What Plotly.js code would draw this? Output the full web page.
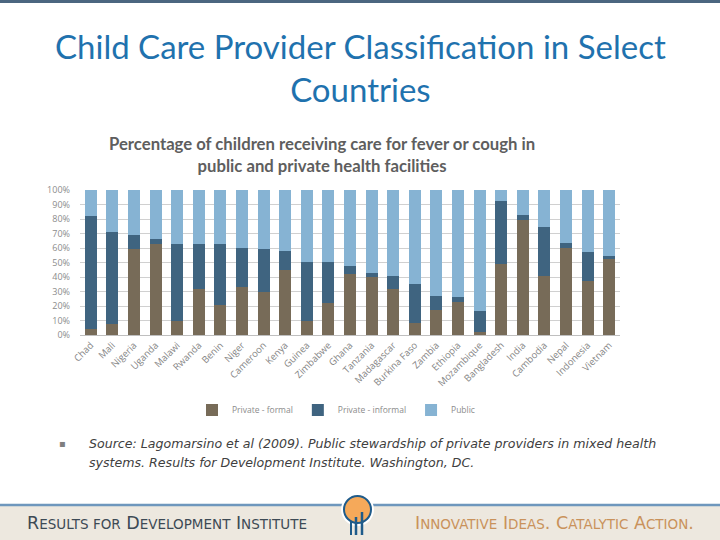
<!DOCTYPE html>
<html>
<head>
<meta charset="utf-8">
<script src="https://cdn.plot.ly/plotly-3.0.1.min.js"></script>
<style>
  html, body { margin: 0; padding: 0; background: #ffffff; }
  #chart { width: 720px; height: 540px; }
</style>
</head>
<body>
<div id="chart"></div>
<script>
// ---- Data ----
const countries = ["Chad", "Mali", "Nigeria", "Uganda", "Malawi", "Rwanda", "Benin", "Niger",
  "Cameroon", "Kenya", "Guinea", "Zimbabwe", "Ghana", "Tanzania", "Madagascar", "Burkina Faso",
  "Zambia", "Ethiopia", "Mozambique", "Bangladesh", "India", "Cambodia", "Nepal", "Indonesia", "Vietnam"];

const privateFormal = [4, 7.5, 59, 63, 10, 32, 21, 33, 30, 45, 10, 22,
  42, 40, 32, 8, 17, 23, 2, 49, 79, 41, 60, 37.5, 52.5];

const privateInformal = [78, 63.5, 10, 3, 53, 30.5, 41.5, 27, 29.5, 13, 40.5, 28.5,
  5.5, 2.5, 8.5, 27, 10, 3, 14.5, 43.5, 3.5, 33.5, 3.5, 19.5, 2];

// Public = remainder of 100%
const publicShare = privateFormal.map((v, i) => 100 - v - privateInformal[i]);

const yTickVals = [0, 10, 20, 30, 40, 50, 60, 70, 80, 90, 100];
const yTickText = ["0%", "10%", "20%", "30%", "40%", "50%", "60%", "70%", "80%", "90%", "100%"];

const seriesNames = ["Private - formal", "Private - informal", "Public"];
const seriesColors = ["#776B58", "#3F6480", "#86B3D3"];

// ---- Traces ----
const seriesValues = [privateFormal, privateInformal, publicShare];
const traces = seriesValues.map((vals, k) => ({
  type: "bar",
  name: seriesNames[k],
  x: countries,
  y: vals,
  marker: { color: seriesColors[k] },
  hoverinfo: "x+y+name"
}));

const W = 720, H = 540;
const px = x => x / W;
const py = y => 1 - y / H;

const sc = s => "<span style='font-size:13.5px'>" + s + "</span>";

const layout = {
  width: W, height: H,
  margin: { l: 0, r: 0, t: 0, b: 0 },
  paper_bgcolor: "#ffffff",
  plot_bgcolor: "#ffffff",
  barmode: "stack",
  bargap: 0.44,
  showlegend: true,
  legend: {
    orientation: "h",
    x: px(336), xanchor: "center",
    y: py(410), yanchor: "middle",
    font: { family: "Open Sans, sans-serif", size: 8.5, color: "#8C8C8C" },
    itemwidth: 30,
    tracegroupgap: 0,
    traceorder: "normal"
  },
  xaxis: {
    domain: [px(80), px(620)],
    type: "category",
    tickangle: -45,
    tickfont: { family: "Open Sans, sans-serif", size: 9.5, color: "#858585" },
    showline: true,
    linecolor: "#BFBFBF",
    linewidth: 1,
    ticks: "",
    showgrid: false,
    fixedrange: true
  },
  yaxis: {
    domain: [py(335), py(190)],
    range: [0, 100],
    tickvals: yTickVals,
    ticktext: yTickText,
    tickfont: { family: "Open Sans, sans-serif", size: 9, color: "#8C8C8C" },
    showgrid: true,
    gridcolor: "#D0D0D0",
    gridwidth: 1,
    zeroline: false,
    showline: false,
    ticks: "",
    ticklabelstandoff: 9,
    fixedrange: true
  },
  shapes: [
    // top bar
    { type: "rect", xref: "paper", yref: "paper", x0: 0, x1: 1, y0: py(3), y1: 1,
      fillcolor: "#4B6680", line: { width: 0 }, layer: "above" },
    // footer background
    { type: "rect", xref: "paper", yref: "paper", x0: 0, x1: 1, y0: 0, y1: py(505),
      fillcolor: "#EDE8DF", line: { width: 0 }, layer: "below" },
    // footer blue line
    { type: "line", xref: "paper", yref: "paper", x0: 0, x1: 1, y0: py(505), y1: py(505),
      line: { color: "#6E97BD", width: 2.5 }, layer: "above" },
    // logo white backdrop
    { type: "circle", xref: "paper", yref: "paper", x0: px(341), x1: px(374), y0: py(526), y1: py(493),
      fillcolor: "#ffffff", line: { width: 0 }, layer: "above" },
    // logo orange globe
    { type: "circle", xref: "paper", yref: "paper", x0: px(344), x1: px(371), y0: py(523), y1: py(496),
      fillcolor: "#F5A95A", line: { color: "#1F5B8A", width: 2 }, layer: "above" },
    // logo figures (simple)
    { type: "line", xref: "paper", yref: "paper", x0: px(351), x1: px(351), y0: py(535), y1: py(521),
      line: { color: "#1F5B8A", width: 2 }, layer: "above" },
    { type: "line", xref: "paper", yref: "paper", x0: px(356), x1: px(356), y0: py(535), y1: py(517),
      line: { color: "#1F5B8A", width: 2.5 }, layer: "above" },
    { type: "line", xref: "paper", yref: "paper", x0: px(362), x1: px(362), y0: py(535), y1: py(512),
      line: { color: "#1F5B8A", width: 2.5 }, layer: "above" }
  ],
  annotations: [
    { text: "Child Care Provider Classification in Select<br>Countries",
      xref: "paper", yref: "paper", x: px(360), y: py(67), xanchor: "center", yanchor: "middle",
      showarrow: false, align: "center",
      font: { family: "Lato, sans-serif", size: 33, color: "#1F72AE" } },
    { text: "<b>Percentage of children receiving care for fever or cough in<br>public and private health facilities</b>",
      xref: "paper", yref: "paper", x: px(322), y: py(155), xanchor: "center", yanchor: "middle",
      showarrow: false, align: "center",
      font: { family: "Lato, sans-serif", size: 16.7, color: "#5E5E5E" } },
    { text: "▪",
      xref: "paper", yref: "paper", x: px(62), y: py(443), xanchor: "center", yanchor: "middle",
      showarrow: false, font: { family: "DejaVu Sans, sans-serif", size: 10, color: "#7F7F7F" } },
    { text: "<i>Source: Lagomarsino et al (2009). Public stewardship of private providers in mixed health</i>",
      xref: "paper", yref: "paper", x: px(87), y: py(443), xanchor: "left", yanchor: "middle",
      showarrow: false, align: "left",
      font: { family: "DejaVu Sans, sans-serif", size: 12.6, color: "#404040" } },
    { text: "<i>systems. Results for Development Institute. Washington, DC.</i>",
      xref: "paper", yref: "paper", x: px(87), y: py(462), xanchor: "left", yanchor: "middle",
      showarrow: false, align: "left",
      font: { family: "DejaVu Sans, sans-serif", size: 12.6, color: "#404040" } },
    { text: "R" + sc("ESULTS FOR") + " D" + sc("EVELOPMENT") + " I" + sc("NSTITUTE"),
      xref: "paper", yref: "paper", x: px(25), y: py(523), xanchor: "left", yanchor: "middle",
      showarrow: false, font: { family: "DejaVu Sans, sans-serif", size: 17.5, color: "#3D4A55" } },
    { text: "I" + sc("NNOVATIVE") + " I" + sc("DEAS") + ". C" + sc("ATALYTIC") + " A" + sc("CTION") + ".",
      xref: "paper", yref: "paper", x: px(413), y: py(523), xanchor: "left", yanchor: "middle",
      showarrow: false, font: { family: "DejaVu Sans, sans-serif", size: 17.5, color: "#C9925B" } }
  ]
};

Plotly.newPlot("chart", traces, layout, { displayModeBar: false, staticPlot: true });
</script>
</body>
</html>
